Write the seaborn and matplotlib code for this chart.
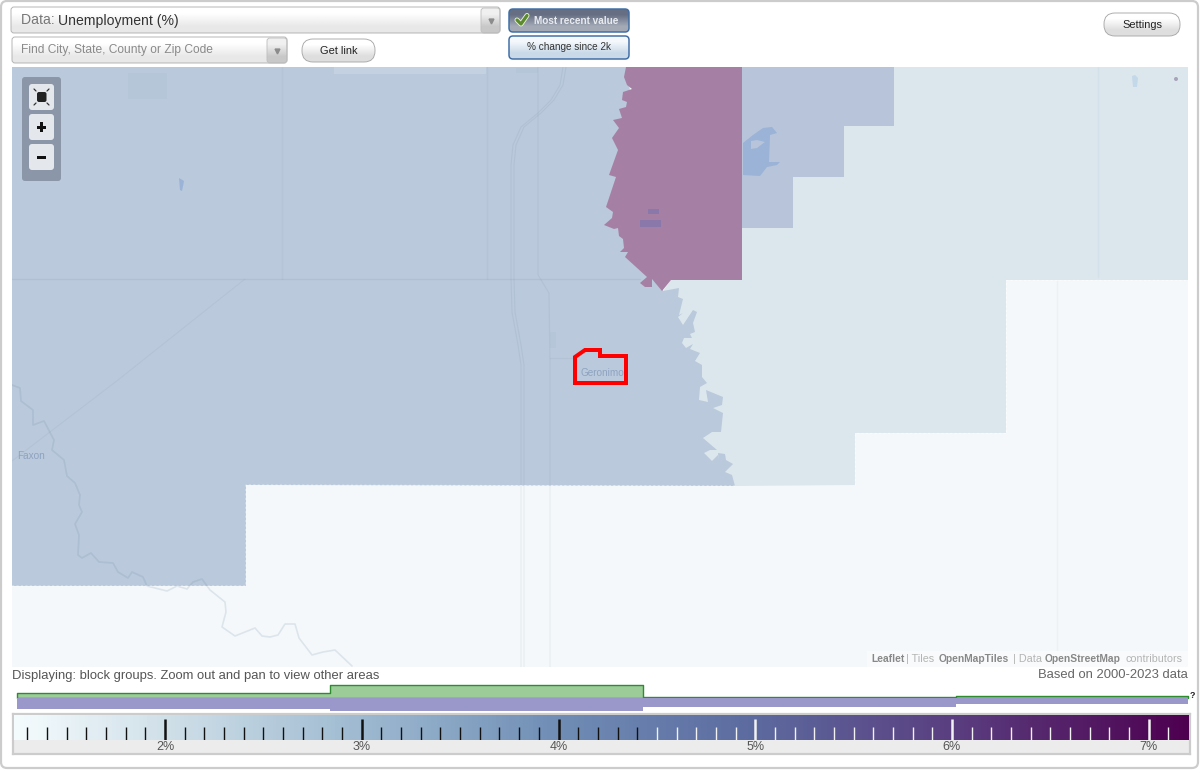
import numpy as np
import pandas as pd
import seaborn as sns
import matplotlib.pyplot as plt
from matplotlib.colors import LinearSegmentedColormap
from matplotlib.patches import Circle, FancyBboxPatch, Polygon, Rectangle

# bins of the distribution strip above the colour scale
bin_edges = [1.245, 2.84, 4.43, 6.02, 7.2]
bin_mids = [2.05, 3.64, 5.22, 6.6]
green_values = [5.3, 13.0, 0.7, 1.8]
purple_values = [11.0, 12.6, 9.3, 5.6]

# colour scale
scale_min, scale_max = 1.227, 7.21
major_ticks = [2, 3, 4, 5, 6, 7]
major_labels = ['2%', '3%', '4%', '5%', '6%', '7%']
minor_ticks = [x / 10 for x in range(13, 72) if x % 10 != 0]
ramp_stops = [0.0, 0.129, 0.296, 0.463, 0.63, 0.797, 1.0]
ramp_colors = ['#f4fbfd', '#cfdfe8', '#9db9d0', '#6f8db5', '#5c6a9f', '#5a3f80', '#4d004f']

# map shapes, in screen pixels of the screenshot
west_edge = [(12, 67), (626, 67), (662, 280), (663, 291), (679, 288), (678, 297), (683, 299), (679, 315), (683, 313),
             (678, 317), (683, 325), (693, 310), (697, 312), (693, 323), (695, 332), (690, 334), (692, 338), (684, 338),
             (682, 343), (686, 348), (693, 344), (690, 349), (700, 353), (695, 361), (702, 365), (702, 377), (707, 383),
             (700, 387), (699, 400), (708, 402), (706, 390), (723, 397), (722, 405), (713, 408), (723, 413), (721, 432),
             (712, 432), (703, 438), (717, 450), (710, 450), (704, 453), (712, 461), (718, 455), (719, 462), (718, 453),
             (725, 454), (726, 460), (733, 464), (725, 472), (732, 475), (735, 486), (246, 485), (246, 586), (12, 586)]
pink_area = [(626, 67), (624, 77), (627, 85), (632, 89), (623, 92), (622, 100), (627, 102), (626, 107), (619, 109),
             (622, 118), (613, 120), (619, 128), (612, 138), (618, 150), (609, 175), (616, 177), (606, 207), (613, 212),
             (612, 218), (604, 225), (614, 229), (618, 228), (619, 236), (623, 239), (624, 248), (620, 252), (628, 252),
             (625, 257), (647, 277), (640, 283), (645, 287), (652, 287), (652, 279), (662, 291), (671, 280), (742, 280),
             (742, 67)]
mid_area = [(742, 67), (894, 67), (894, 126), (844, 126), (844, 177), (793, 177), (793, 228), (742, 228)]
light_area = [(742, 228), (793, 228), (793, 177), (844, 177), (844, 126), (894, 126), (894, 67), (1190, 67), (1190, 280),
              (1006, 280), (1006, 433), (855, 433), (855, 485), (735, 486), (700, 460), (690, 380), (672, 300), (663, 291),
              (671, 280), (742, 280)]
lake = [(743, 143), (753, 135), (763, 128), (772, 127), (777, 133), (770, 135), (769, 162), (780, 162), (777, 165),
        (767, 167), (760, 176), (743, 175)]
lake_notch = [(751, 141), (751, 149), (757, 148), (765, 142), (757, 140)]
red_outline = [(575, 383), (575, 357), (585, 350), (600, 350), (600, 356), (626, 356), (626, 383)]
river = [(12, 385), (20, 388), (21, 401), (33, 410), (33, 425), (44, 421), (54, 440), (52, 450), (64, 460), (67, 476),
         (75, 483), (80, 495), (79, 505), (82, 512), (75, 524), (79, 535), (78, 555), (82, 558), (91, 553), (99, 562),
         (113, 563), (118, 572), (128, 578), (132, 572), (143, 577), (147, 586), (167, 591), (177, 586), (187, 589),
         (193, 582), (202, 579), (210, 590), (225, 602), (226, 612), (222, 627), (235, 636), (255, 628), (262, 636),
         (270, 637), (278, 635), (285, 624), (295, 624), (299, 638), (312, 655), (323, 652), (335, 650), (352, 666)]
highway_a = [(563, 67), (560, 85), (551, 100), (538, 113), (521, 127), (513, 145), (511, 165), (511, 278), (512, 312),
             (518, 345), (521, 365), (521, 667)]
highway_b = [(566, 67), (563, 85), (554, 100), (541, 113), (524, 127), (516, 145), (514, 165), (514, 278), (515, 312),
             (521, 345), (524, 365), (524, 667)]
state_road = [(538, 67), (538, 275), (549, 293), (550, 365), (550, 667)]
cross_road = [(12, 279), (640, 279)]
diagonal_road = [(245, 279), (118, 380), (12, 461)]
side_road = [(550, 358), (574, 358)]

MAP = (12, 67, 1188, 667)
PX = 0.72  # points per pixel at dpi 100


def add_axes_px(fig, x0, y0, x1, y1):
    return fig.add_axes([x0 / 1200, 1 - y1 / 771, (x1 - x0) / 1200, (y1 - y0) / 771])


def gradient_box(ax, x0, y0, x1, y1, top, bottom, edge, radius=3, lw=0.9):
    box = FancyBboxPatch((x0, y0), x1 - x0, y1 - y0, boxstyle='round,pad=0,rounding_size=%s' % radius,
                         fc='none', ec=edge, lw=lw * PX, zorder=6)
    ax.add_patch(box)
    cmap = LinearSegmentedColormap.from_list('g', [top, bottom])
    im = ax.imshow([[0], [1]], extent=(x0, x1, y1, y0), cmap=cmap, aspect='auto', zorder=5, interpolation='bilinear')
    im.set_clip_path(box)


sns.set_theme(style='white')
plt.rcParams['font.family'] = ['Liberation Sans', 'DejaVu Sans']

fig = plt.figure(figsize=(12, 7.71), dpi=100, facecolor='white')
ax = add_axes_px(fig, 0, 0, 1200, 771)
ax.set_axis_off()

# page frame
ax.add_patch(FancyBboxPatch((1, 1), 1197, 767, boxstyle='round,pad=0,rounding_size=6', fc='white', ec='#cccccc', lw=2.2 * PX))

# map
clip = Rectangle((MAP[0], MAP[1]), MAP[2] - MAP[0], MAP[3] - MAP[1], transform=ax.transData)
ax.add_patch(Rectangle((MAP[0], MAP[1]), MAP[2] - MAP[0], MAP[3] - MAP[1], fc='#f4f8fa', ec='none', zorder=1))
for pts, col in [(light_area, '#dce7ed'), (west_edge, '#bac9db'), (mid_area, '#b7c4da'), (pink_area, '#a580a4'),
                 (lake, '#9ab3d6'), (lake_notch, '#b7c4da')]:
    ax.add_patch(Polygon(pts, closed=True, fc=col, ec='none', zorder=2))
ax.add_patch(Rectangle((648, 209), 11, 5, fc='#8a78aa', ec='none', zorder=3))
ax.add_patch(Rectangle((640, 220), 21, 7, fc='#8a78aa', ec='none', zorder=3))
ax.add_patch(Rectangle((128, 73), 39, 26, fc='#b5c6d8', ec='none', zorder=3))
ax.add_patch(Rectangle((334, 67), 152, 7, fc='#c3d1e0', ec='none', zorder=3))
ax.add_patch(Rectangle((516, 68), 22, 5, fc='#b5c6d8', ec='none', zorder=3))
ax.add_patch(Rectangle((550, 332), 6, 16, fc='#b5c6d8', ec='none', zorder=3))
ax.add_patch(Polygon([(179, 178), (184, 181), (182, 191), (180, 190)], fc='#9ab3d6', ec='none', zorder=3))
ax.add_patch(Polygon([(1132, 76), (1135, 75), (1138, 78), (1137, 87), (1133, 87)], fc='#c3d8e8', ec='none', zorder=3))
ax.add_patch(Circle((1176, 79), 2, fc='#a9a3ba', ec='none', zorder=3))

for line, lw, al in [(highway_a, 0.8, 0.09), (highway_b, 0.8, 0.09), (state_road, 0.9, 0.08), (cross_road, 1.0, 0.1),
                     (diagonal_road, 0.8, 0.07), (side_road, 0.8, 0.07)]:
    xs, ys = zip(*line)
    ax.plot(xs, ys, color='#5c7590', alpha=al, lw=lw, zorder=4)
ax.plot([282, 282], [67, 279], color='#5c7590', alpha=0.05, lw=1, zorder=4)
ax.plot([487, 487], [67, 279], color='#5c7590', alpha=0.06, lw=1, zorder=4)
ax.plot([1098, 1098], [67, 277], color='#5c7590', alpha=0.05, lw=1, zorder=4)
ax.plot([1057, 1057], [281, 667], color='#5c7590', alpha=0.05, lw=1, zorder=4)
xs, ys = zip(*river)
ax.plot(xs, ys, color='#6a88a8', alpha=0.17, lw=1.2, zorder=4)
# dotted block group edges
ax.plot([12, 246, 246, 735], [586, 586, 485, 486], color='white', alpha=0.55, lw=0.8, ls=(0, (2, 2)), zorder=4)
ax.plot([855, 855, 1006, 1006, 1190], [485, 433, 433, 280, 280], color='white', alpha=0.55, lw=0.8, ls=(0, (2, 2)), zorder=4)
for art in ax.patches[1:] + ax.lines:
    art.set_clip_path(clip)

ax.add_patch(Polygon(red_outline, closed=True, fc='none', ec='#ff0000', lw=4 * PX, joinstyle='miter', zorder=5))
ax.text(602, 373.5, 'Geronimo', color='#8ea3c1', fontsize=10 * PX, ha='center', va='center', zorder=5)
ax.text(17, 456, 'Faxon', color='#8ea3c1', fontsize=10 * PX, ha='left', va='center', zorder=5)

# zoom buttons
ax.add_patch(FancyBboxPatch((22, 77), 39, 104, boxstyle='round,pad=0,rounding_size=3', fc='#8b97a8', ec='none', zorder=5))
for y0 in [84, 114, 144]:
    ax.add_patch(FancyBboxPatch((29, y0), 25, 26, boxstyle='round,pad=0,rounding_size=3', fc='#e4e7ec', ec='none', zorder=6))
ax.add_patch(FancyBboxPatch((37, 92), 9.5, 10, boxstyle='round,pad=0,rounding_size=2', fc='#222222', ec='none', zorder=7))
for cx, cy, dx, dy in [(34, 89, 1, 1), (49, 89, -1, 1), (34, 105, 1, -1), (49, 105, -1, -1)]:
    ax.plot([cx, cx + 2 * dx], [cy, cy + 2 * dy], color='#333333', lw=0.9, zorder=7)
ax.add_patch(Rectangle((37, 125.5), 9, 3, fc='#111111', ec='none', zorder=7))
ax.add_patch(Rectangle((40, 122), 3, 10, fc='#111111', ec='none', zorder=7))
ax.add_patch(Rectangle((37, 155.5), 9, 3, fc='#111111', ec='none', zorder=7))

# controls on top of the map
gradient_box(ax, 11, 7, 500, 33, '#ffffff', '#e8e8e8', '#b0b0b0')
gradient_box(ax, 481, 8, 500, 33, '#f0f0f0', '#c8c8c8', '#c0c0c0')
gradient_box(ax, 12, 37, 287, 63, '#ffffff', '#e8e8e8', '#b0b0b0')
gradient_box(ax, 267, 38, 287, 63, '#f0f0f0', '#c8c8c8', '#c0c0c0')
gradient_box(ax, 302, 39, 375, 62, '#ffffff', '#dedede', '#a8a8a8', radius=11)
gradient_box(ax, 1104, 13, 1180, 36, '#ffffff', '#dedede', '#a8a8a8', radius=11)
gradient_box(ax, 509, 9, 629, 32, '#666e84', '#a3a9b5', '#3f6ea5', radius=4, lw=1.5)
gradient_box(ax, 509, 36, 629, 59, '#f4f8fc', '#c9d9e8', '#3f6ea5', radius=4, lw=1.5)
ax.plot([491, 277], [21, 51], ls='none', marker='v', ms=3.5, color='#8c8c8c', zorder=7)
ax.plot([517, 521, 527], [20, 24, 15.5], color='#e8f2d8', lw=5 * PX, solid_capstyle='round', zorder=7)
ax.plot([517, 521, 527], [20, 24, 15.5], color='#5c8a2e', lw=3.2 * PX, zorder=8)

ax.text(21, 20.5, 'Data: ', color='#777777', fontsize=14 * PX, va='center', zorder=8)
ax.text(58, 20.5, 'Unemployment (%)', color='#333333', fontsize=14 * PX, va='center', zorder=8)
ax.text(21, 50.5, 'Find City, State, County or Zip Code', color='#8a8a8a', fontsize=12 * PX, va='center', zorder=8)
ax.text(338.5, 50.5, 'Get link', color='#222222', fontsize=11 * PX, ha='center', va='center', zorder=8)
ax.text(1142, 24.5, 'Settings', color='#222222', fontsize=11 * PX, ha='center', va='center', zorder=8)
ax.text(576, 20.5, 'Most recent value', color='#e8ecf0', fontsize=10 * PX, fontweight='bold', ha='center', va='center', zorder=8)
ax.text(569, 47, '% change since 2k', color='#333333', fontsize=10 * PX, ha='center', va='center', zorder=8)

# attribution
ax.add_patch(Rectangle((867, 651), 321, 16, fc='#f8fafb', ec='none', zorder=5))
for x, txt, col, w, fs in [(871, 'Leaflet', '#888888', 'bold', 10.3), (906, '| Tiles', '#b4b4b4', 'normal', 10.8),
                           (939, 'OpenMapTiles', '#888888', 'bold', 10.3), (1013, '| Data', '#b4b4b4', 'normal', 10.8),
                           (1045, 'OpenStreetMap', '#888888', 'bold', 10.3), (1126, 'contributors', '#b4b4b4', 'normal', 10.8)]:
    ax.text(x, 659.5, txt, color=col, fontsize=fs * PX, fontweight=w, va='center', zorder=6)

ax.text(12, 675.5, 'Displaying: block groups. Zoom out and pan to view other areas', color='#555555', fontsize=13 * PX, va='center')
ax.text(1188, 675.5, 'Based on 2000-2023 data', color='#666666', fontsize=13 * PX, ha='right', va='center')
ax.text(1192, 696, '?', color='#222222', fontsize=9 * PX, fontweight='bold', ha='center', va='center')

ax.set_xlim(0, 1200)
ax.set_ylim(771, 0)

# distribution strip
df = pd.DataFrame({'mid': bin_mids, 'green': green_values, 'purple': purple_values})
ax_green = add_axes_px(fig, 13, 684, 1190, 698)
ax_purple = add_axes_px(fig, 13, 698, 1190, 712)
sns.histplot(data=df, x='mid', weights='green', bins=bin_edges, element='step', color='#9ccc98', alpha=1,
             edgecolor='#2e8b2e', linewidth=1.0, ax=ax_green)
sns.histplot(data=df, x='mid', weights='purple', bins=bin_edges, element='step', color='#9a98ca', alpha=1, linewidth=0, ax=ax_purple)
ax_green.set_ylim(0, 14)
ax_purple.set_ylim(14, 0)
for a in [ax_green, ax_purple]:
    a.set_xlim(scale_min, scale_max)
    a.set_axis_off()
    a.patch.set_alpha(0)
    for art in a.get_children():
        art.set_clip_on(False)

# colour scale: frame, ramp, ticks
ax_frame = add_axes_px(fig, 13, 714, 1190, 754)
ax_frame.set_xticks([])
ax_frame.set_yticks([])
ax_frame.set_facecolor('#ececec')
for s in ax_frame.spines.values():
    s.set_visible(True)
    s.set_color('#cccccc')
    s.set_linewidth(2.2 * PX)

ramp_cmap = LinearSegmentedColormap.from_list('ramp', list(zip(ramp_stops, ramp_colors)))
ax_ramp = add_axes_px(fig, 14, 715, 1189, 740)
ramp = np.linspace(scale_min, scale_max, 600).reshape(1, -1)
sns.heatmap(ramp, cmap=ramp_cmap, cbar=False, xticklabels=False, yticklabels=False, ax=ax_ramp)

ax_ticks = add_axes_px(fig, 13, 715, 1190, 740)
ax_ticks.set_xlim(scale_min, scale_max)
ax_ticks.set_ylim(0, 25)
ax_ticks.set_axis_off()
ax_ticks.patch.set_alpha(0)
for t in minor_ticks:
    ax_ticks.vlines(t, 0, 13, color='#111111' if t < 4.45 else '#f2f2f2', lw=1.0)
for t, lab in zip(major_ticks, major_labels):
    ax_ticks.vlines(t, 0, 21, color='#111111' if t < 4.45 else '#f2f2f2', lw=1.8)
    ax_ticks.text(t, -6.5, lab, color='#555555', fontsize=12.5 * PX, ha='center', va='center', clip_on=False)

fig.savefig('out.png', dpi=100)
